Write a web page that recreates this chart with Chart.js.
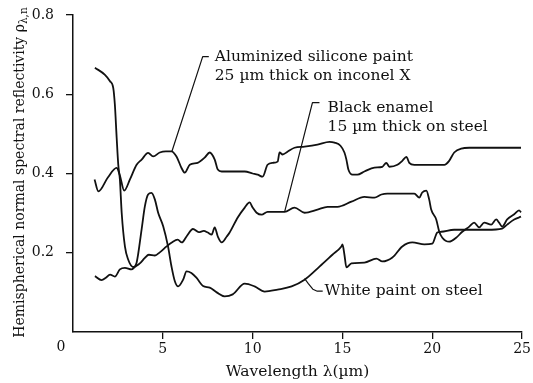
<!DOCTYPE html>
<html>
<head>
<meta charset="utf-8">
<script src="https://cdn.jsdelivr.net/npm/chart.js@4.4.1/dist/chart.umd.min.js"></script>
<style>
  html, body { margin: 0; padding: 0; background: #fff; }
  #wrap { width: 533px; height: 383px; }
</style>
</head>
<body>
<div id="wrap"><canvas id="chart" width="533" height="383"></canvas></div>
<script>
// Axis ticks
const xTickValues = [0, 5, 10, 15, 20, 25];
const yTickValues = [0.2, 0.4, 0.6, 0.8];

// Aluminized silicone paint, 25 µm thick on Inconel X
const aluminizedWavelength = [1.2, 1.41, 1.94, 2.43, 2.61, 2.85, 3.17, 3.54, 3.82, 4.18, 4.46, 4.83, 5.17, 5.48, 5.76, 6.04, 6.22, 6.5, 6.94, 7.33, 7.61, 7.89, 8.06, 8.28, 8.61, 9.56, 10.0, 10.28, 10.56, 10.83, 11.11, 11.39, 11.5, 11.67, 11.94, 12.33, 12.89, 13.61, 14.28, 14.56, 14.89, 15.11, 15.22, 15.33, 15.56, 15.83, 16.22, 16.78, 17.22, 17.44, 17.61, 18.06, 18.33, 18.56, 18.72, 19.0, 20.67, 20.94, 21.22, 21.61, 22.06, 24.94];
const aluminizedReflectivity = [0.385, 0.355, 0.39, 0.414, 0.395, 0.357, 0.385, 0.422, 0.435, 0.452, 0.443, 0.453, 0.456, 0.456, 0.443, 0.414, 0.402, 0.422, 0.427, 0.44, 0.453, 0.435, 0.41, 0.405, 0.405, 0.405, 0.40, 0.397, 0.392, 0.422, 0.427, 0.43, 0.453, 0.448, 0.455, 0.465, 0.468, 0.473, 0.48, 0.478, 0.47, 0.453, 0.435, 0.41, 0.397, 0.397, 0.405, 0.415, 0.417, 0.427, 0.417, 0.422, 0.432, 0.442, 0.427, 0.422, 0.422, 0.432, 0.453, 0.463, 0.465, 0.465];

// Black enamel, 15 µm thick on steel
const enamelWavelength = [1.22, 1.59, 1.83, 2.06, 2.33, 2.61, 2.89, 3.26, 3.44, 3.72, 4.0, 4.22, 4.56, 4.83, 5.21, 5.5, 5.83, 6.06, 6.32, 6.68, 7.0, 7.28, 7.5, 7.72, 7.89, 8.06, 8.28, 8.56, 8.72, 9.17, 9.56, 9.83, 10.0, 10.22, 10.5, 10.83, 11.78, 12.33, 12.89, 13.61, 14.17, 14.72, 15.5, 16.22, 16.78, 17.17, 17.5, 19.0, 19.28, 19.44, 19.67, 19.83, 19.94, 20.22, 20.39, 20.56, 20.94, 21.33, 21.67, 22.06, 22.33, 22.61, 22.89, 23.28, 23.56, 23.72, 23.89, 24.17, 24.56, 24.83, 24.94];
const enamelReflectivity = [0.141, 0.131, 0.137, 0.145, 0.14, 0.158, 0.162, 0.158, 0.164, 0.173, 0.187, 0.195, 0.193, 0.201, 0.216, 0.226, 0.233, 0.226, 0.241, 0.26, 0.252, 0.255, 0.251, 0.246, 0.264, 0.241, 0.226, 0.241, 0.251, 0.289, 0.314, 0.327, 0.314, 0.301, 0.296, 0.303, 0.303, 0.314, 0.301, 0.309, 0.316, 0.316, 0.329, 0.341, 0.339, 0.347, 0.349, 0.349, 0.339, 0.352, 0.357, 0.334, 0.309, 0.284, 0.253, 0.238, 0.228, 0.238, 0.253, 0.266, 0.276, 0.264, 0.276, 0.271, 0.284, 0.276, 0.266, 0.284, 0.297, 0.307, 0.302];

// White paint on steel
const whiteWavelength = [1.22, 1.78, 2.06, 2.24, 2.33, 2.43, 2.52, 2.61, 2.71, 2.89, 3.07, 3.35, 3.54, 3.82, 4.0, 4.18, 4.37, 4.56, 4.74, 5.02, 5.29, 5.48, 5.67, 5.85, 6.13, 6.32, 6.59, 6.87, 7.24, 7.61, 8.0, 8.44, 8.89, 9.56, 10.11, 10.67, 11.39, 12.17, 12.89, 13.72, 14.44, 14.94, 15.0, 15.11, 15.22, 15.5, 16.22, 16.89, 17.22, 17.78, 18.33, 18.89, 19.56, 20.0, 20.28, 20.5, 21.22, 23.06, 23.89, 24.17, 24.56, 24.94];
const whiteReflectivity = [0.667, 0.649, 0.633, 0.616, 0.574, 0.491, 0.422, 0.385, 0.301, 0.216, 0.183, 0.164, 0.175, 0.259, 0.317, 0.347, 0.351, 0.334, 0.301, 0.267, 0.216, 0.166, 0.128, 0.115, 0.132, 0.153, 0.149, 0.137, 0.116, 0.112, 0.1, 0.09, 0.095, 0.122, 0.115, 0.102, 0.107, 0.115, 0.132, 0.165, 0.195, 0.216, 0.221, 0.195, 0.163, 0.173, 0.175, 0.185, 0.178, 0.188, 0.216, 0.226, 0.221, 0.223, 0.251, 0.253, 0.258, 0.258, 0.261, 0.271, 0.284, 0.291];

const FONT = "'DejaVu Serif', serif";
const INK = '#111';

function points(xs, ys) {
  return xs.map((x, i) => ({ x: x, y: ys[i] }));
}

function curve(label, xs, ys) {
  return {
    label: label,
    data: points(xs, ys),
    showLine: true,
    borderColor: INK,
    borderWidth: 1.8,
    pointRadius: 0,
    pointHoverRadius: 0,
    cubicInterpolationMode: 'monotone',
    fill: false
  };
}

// Callout labels with leader lines, anchored in data units
const callouts = [
  {
    lines: ['Aluminized silicone paint', '25 µm thick on inconel X'],
    leader: [[5.5, 0.455], [7.22, 0.695], [7.56, 0.695]],
    text: [7.89, 0.695]
  },
  {
    lines: ['Black enamel', '15 µm thick on steel'],
    leader: [[11.78, 0.303], [13.33, 0.579], [13.72, 0.579]],
    text: [14.17, 0.566]
  },
  {
    lines: ['White paint on steel'],
    leader: [[12.89, 0.135], [13.1, 0.122], [13.35, 0.108], [13.6, 0.103], [13.9, 0.103]],
    text: [14.0, 0.103]
  }
];

const yTitleMain = 'Hemispherical normal spectral reflectivity ρ';
const yTitleSub = 'λ,n';

const calloutPlugin = {
  id: 'callouts',
  afterDatasetsDraw(chart) {
    const { ctx, scales } = chart;
    const xs = scales.x, ys = scales.y;
    ctx.save();
    ctx.strokeStyle = INK;
    ctx.fillStyle = INK;
    ctx.lineWidth = 1.2;
    ctx.lineJoin = 'round';
    callouts.forEach(c => {
      ctx.beginPath();
      c.leader.forEach((p, i) => {
        const px = xs.getPixelForValue(p[0]);
        const py = ys.getPixelForValue(p[1]);
        if (i === 0) ctx.moveTo(px, py); else ctx.lineTo(px, py);
      });
      ctx.stroke();
      ctx.font = '15.5px ' + FONT;
      ctx.textAlign = 'left';
      ctx.textBaseline = 'middle';
      const tx = xs.getPixelForValue(c.text[0]);
      const ty = ys.getPixelForValue(c.text[1]);
      c.lines.forEach((line, i) => ctx.fillText(line, tx, ty + i * 19));
    });
    ctx.restore();
  },
  afterDraw(chart) {
    const { ctx, chartArea, scales } = chart;
    ctx.save();
    ctx.fillStyle = INK;
    // origin label, set left of the corner
    ctx.font = '14px ' + FONT;
    ctx.textAlign = 'center';
    ctx.textBaseline = 'middle';
    ctx.fillText('0', scales.x.getPixelForValue(0) - 12, chartArea.bottom + 15);
    // vertical axis title with subscript
    const cy = (chartArea.top + chartArea.bottom) / 2 - 1;
    ctx.translate(18.5, cy);
    ctx.rotate(-Math.PI / 2);
    const mainFont = '14px ' + FONT;
    const subFont = '10.5px ' + FONT;
    ctx.font = mainFont;
    const wMain = ctx.measureText(yTitleMain).width;
    ctx.font = subFont;
    const wSub = ctx.measureText(yTitleSub).width;
    const start = -(wMain + wSub) / 2;
    ctx.textAlign = 'left';
    ctx.textBaseline = 'alphabetic';
    ctx.font = mainFont;
    ctx.fillText(yTitleMain, start, 5);
    ctx.font = subFont;
    ctx.fillText(yTitleSub, start + wMain, 8);
    ctx.restore();
  }
};

new Chart(document.getElementById('chart'), {
  type: 'scatter',
  data: {
    datasets: [
      curve('Aluminized silicone paint', aluminizedWavelength, aluminizedReflectivity),
      curve('Black enamel', enamelWavelength, enamelReflectivity),
      curve('White paint on steel', whiteWavelength, whiteReflectivity)
    ]
  },
  options: {
    responsive: false,
    animation: false,
    devicePixelRatio: 1,
    layout: { padding: { top: 15, right: 10, left: 0, bottom: 0 } },
    plugins: {
      legend: { display: false },
      tooltip: { enabled: false }
    },
    scales: {
      x: {
        type: 'linear',
        min: 0,
        max: 25,
        afterBuildTicks: s => { s.ticks = xTickValues.map(v => ({ value: v })); },
        afterFit: s => { s.height = 51; },
        ticks: {
          color: INK,
          font: { family: FONT, size: 14 },
          padding: 2,
          maxRotation: 0,
          callback: v => (v === 0 ? '' : String(v))
        },
        grid: {
          drawOnChartArea: false,
          drawTicks: true,
          tickLength: 7,
          lineWidth: 1.3,
          color: c => (c.tick && c.tick.value === 0 ? 'rgba(0,0,0,0)' : INK)
        },
        border: { display: true, color: INK, width: 1.5 },
        title: {
          display: true,
          text: 'Wavelength λ(µm)',
          color: INK,
          font: { family: FONT, size: 15.5 },
          padding: { top: 0, bottom: 2 }
        }
      },
      y: {
        type: 'linear',
        min: 0,
        max: 0.8,
        afterBuildTicks: s => { s.ticks = yTickValues.map(v => ({ value: v })); },
        afterFit: s => { s.width = 73; s.paddingTop = 0; s.paddingBottom = 0; },
        ticks: {
          color: INK,
          font: { family: FONT, size: 14 },
          padding: 12,
          callback: v => Number(v).toFixed(1)
        },
        grid: {
          drawOnChartArea: false,
          drawTicks: true,
          tickLength: 7,
          lineWidth: 1.3,
          color: INK
        },
        border: { display: true, color: INK, width: 1.5 },
        title: { display: false, text: yTitleMain + yTitleSub }
      }
    }
  },
  plugins: [calloutPlugin]
});
</script>
</body>
</html>
